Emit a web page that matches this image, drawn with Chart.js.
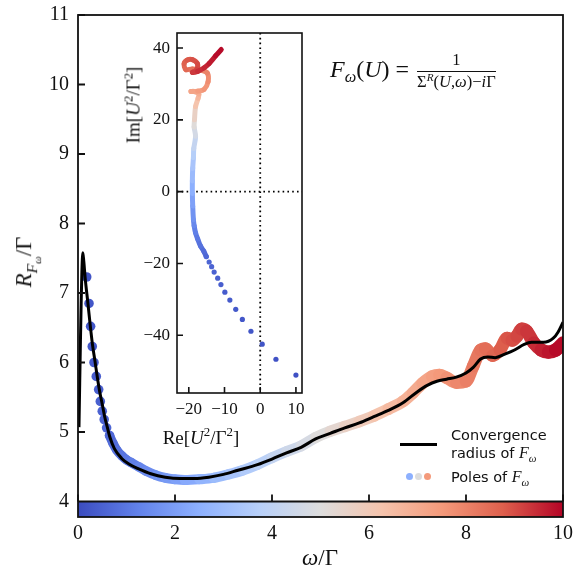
<!DOCTYPE html>
<html>
<head>
<meta charset="utf-8">
<script src="https://cdn.jsdelivr.net/npm/chart.js@4.4.1/dist/chart.umd.min.js"></script>
<style>
  body { margin: 0; background: #fff; }
  #wrap { position: relative; width: 574px; height: 574px; }
  #main { position: absolute; left: 0; top: 0; }
  #inset { position: absolute; left: 120px; top: 25px; }
  .t { position: absolute; white-space: nowrap; font-family: "Liberation Serif", serif; color: #111; line-height: 1; }
  .t sub, .t sup { font-size: 68%; line-height: 0; }
  .rot { transform: translate(-50%, -50%) rotate(-90deg); }
  .ctr { transform: translate(-50%, -50%); }
  .sans { font-family: "DejaVu Sans", sans-serif; font-size: 14.5px; }
  .dot { position: absolute; width: 7px; height: 7px; border-radius: 50%; }
  .frac { display: inline-block; vertical-align: middle; text-align: center; font-size: 16.5px; margin-left: 2px; }
  .frac .num { display: block; border-bottom: 1.8px solid #111; padding: 0 1px 2px; }
  .frac .den { display: block; padding-top: 2px; }
</style>
</head>
<body>
<div id="wrap">
  <canvas id="main" width="574" height="574"></canvas>
  <canvas id="inset" width="190" height="400"></canvas>

  <div class="t rot" style="left:25px; top:262px; font-size:23px;"><i>R</i><sub><i>F</i><sub><i>ω</i></sub></sub>/Γ</div>
  <div class="t ctr" style="left:320px; top:557px; font-size:23px;"><i>ω</i>/Γ</div>

  <div class="t" style="left:330px; top:52px; font-size:24px;">
    <i>F</i><sub><i>ω</i></sub>(<i>U</i>) =
    <span class="frac"><span class="num">1</span><span class="den">Σ<sup><i>R</i></sup>(<i>U</i>,<i>ω</i>)−<i>i</i>Γ</span></span>
  </div>

  <div class="t rot" style="left:133px; top:105px; font-size:19px;">Im[<i>U</i><sup>2</sup>/Γ<sup>2</sup>]</div>
  <div class="t ctr" style="left:201px; top:437px; font-size:19px;">Re[<i>U</i><sup>2</sup>/Γ<sup>2</sup>]</div>

  <div style="position:absolute; left:400px; top:443px; width:37px; height:3.2px; background:#000;"></div>
  <div class="t sans" style="left:451px; top:428px;">Convergence</div>
  <div class="t sans" style="left:451px; top:445px;">radius of <span style="font-family:'Liberation Serif',serif; font-size:16px;"><i>F</i><sub><i>ω</i></sub></span></div>
  <div class="t sans" style="left:451px; top:469px;">Poles of <span style="font-family:'Liberation Serif',serif; font-size:16px;"><i>F</i><sub><i>ω</i></sub></span></div>
  <div class="dot" style="left:406px; top:473px; background:rgb(141,176,254);"></div>
  <div class="dot" style="left:415px; top:473px; background:rgb(221,221,221);"></div>
  <div class="dot" style="left:424px; top:473px; background:rgb(244,154,123);"></div>
</div>

<script>
// convergence radius (black line)
const lineOmega = [0.02, 0.035, 0.05, 0.065, 0.08, 0.1, 0.12, 0.15, 0.2, 0.25, 0.3, 0.35, 0.4, 0.45, 0.5, 0.55, 0.6, 0.66,
  0.75, 0.9, 1.05, 1.25, 1.5, 1.8, 2.1, 2.4, 2.7, 3.0, 3.3, 3.7, 4.0, 4.3, 4.6, 4.9, 5.2, 5.5, 5.8, 6.1, 6.4, 6.7,
  7.0, 7.2, 7.4, 7.6, 7.8, 8.0, 8.15, 8.3, 8.45, 8.6, 8.8, 9.0, 9.2, 9.35, 9.6, 9.8, 9.9, 10.0];
const lineRadius = [5.07, 5.7, 6.3, 6.85, 7.3, 7.58, 7.45, 7.2, 6.88, 6.55, 6.25, 6.02, 5.78, 5.57, 5.4, 5.22, 5.08, 4.92,
  4.76, 4.62, 4.54, 4.47, 4.4, 4.35, 4.33, 4.33, 4.35, 4.39, 4.45, 4.53, 4.61, 4.7, 4.78, 4.9, 4.98, 5.06, 5.13, 5.22, 5.31, 5.42,
  5.58, 5.67, 5.73, 5.76, 5.79, 5.85, 5.93, 6.05, 6.08, 6.07, 6.12, 6.18, 6.26, 6.29, 6.29, 6.35, 6.44, 6.58];

// poles of F_w (first ones are separate dots, then a dense band)
const poleOmega = [0.179, 0.227, 0.26, 0.294, 0.33, 0.377, 0.426, 0.46, 0.5, 0.54, 0.59, 0.65,
  0.72, 0.8, 0.9, 1.0, 1.1, 1.25, 1.4, 1.6, 1.8, 2.0, 2.2, 2.5, 2.8, 3.1, 3.4, 3.7, 4.0, 4.3, 4.6, 4.9, 5.2, 5.5,
  5.8, 6.1, 6.4, 6.7, 6.9, 7.1, 7.3, 7.45, 7.6, 7.8, 8.0, 8.15, 8.3, 8.4, 8.55, 8.7, 8.85, 8.95, 9.05, 9.15, 9.25,
  9.4, 9.55, 9.7, 9.85, 10.0];
const poleRadius = [7.23, 6.85, 6.52, 6.23, 6.0, 5.8, 5.61, 5.44, 5.3, 5.18, 5.06, 4.95,
  4.84, 4.74, 4.66, 4.6, 4.56, 4.5, 4.44, 4.38, 4.34, 4.32, 4.31, 4.32, 4.34, 4.39, 4.45, 4.53, 4.63, 4.72, 4.8, 4.92, 5.01, 5.08,
  5.15, 5.23, 5.33, 5.44, 5.56, 5.7, 5.8, 5.82, 5.78, 5.71, 5.73, 5.95, 6.18, 6.2, 6.1, 6.18, 6.35, 6.32, 6.38, 6.48, 6.45,
  6.28, 6.18, 6.15, 6.18, 6.28];
const poleDotCount = 12;

// inset: poles in the U^2 plane, with the omega they belong to
const insetRe = [10.0, 4.4, 0.56, -2.6, -5.0, -6.85, -8.5, -9.9, -11.0, -11.9, -12.9, -13.6, -14.3, -15.1,
  -15.8, -16.7, -17.5, -18.1, -18.5, -18.7, -18.9, -19.0, -19.0, -18.9, -18.7, -18.6, -18.1, -18.5, -18.4, -18.1,
  -17.4, -17.2, -18.5, -19.4, -17.5, -15.7, -14.6, -14.8, -16.7, -19.0, -20.8, -21.3, -20.4, -19.0, -17.6, -17.8,
  -19.0, -17.5, -15.7, -14.3, -12.5, -10.9];
const insetIm = [-51.1, -46.7, -42.5, -38.9, -35.6, -32.8, -30.2, -28.0, -25.9, -24.1, -22.4, -20.9, -19.6, -18.1,
  -16.6, -15.2, -13.2, -11.5, -9.5, -7.8, -4.0, -0.5, 3.0, 6.5, 9.5, 12.0, 15.4, 18.0, 20.0, 23.7,
  26.0, 27.2, 27.9, 27.9, 28.0, 28.5, 30.6, 33.0, 33.9, 34.2, 34.0, 35.7, 36.7, 36.8, 35.7, 34.0,
  33.2, 33.5, 34.5, 35.7, 37.8, 39.6];
const insetOmega = [0.12, 0.15, 0.18, 0.22, 0.26, 0.3, 0.34, 0.38, 0.42, 0.46, 0.5, 0.54, 0.58, 0.62,
  0.7, 0.8, 0.95, 1.1, 1.3, 1.5, 1.9, 2.3, 2.7, 3.1, 3.5, 3.9, 4.4, 4.9, 5.3, 6.0,
  6.5, 6.8, 7.0, 7.1, 7.3, 7.5, 7.7, 7.9, 8.1, 8.3, 8.5, 8.6, 8.8, 8.9, 9.0, 9.1,
  9.2, 9.35, 9.5, 9.6, 9.8, 10.0];
const insetDotCount = 14;

const xTicks = [0, 2, 4, 6, 8, 10];
const yTicks = [4, 5, 6, 7, 8, 9, 10, 11];
const insetXTicks = [-20, -10, 0, 10];
const insetYTicks = [-40, -20, 0, 20, 40];

// coolwarm colormap
const cwStops = [[0, [59, 76, 192]], [0.125, [98, 130, 234]], [0.25, [141, 176, 254]], [0.375, [184, 208, 249]],
  [0.5, [221, 221, 221]], [0.625, [245, 196, 173]], [0.75, [244, 154, 123]], [0.875, [222, 96, 77]], [1, [180, 4, 38]]];

function coolwarm(t) {
  t = Math.max(0, Math.min(1, t));
  for (let i = 1; i < cwStops.length; i++) {
    if (t <= cwStops[i][0]) {
      const [t0, c0] = cwStops[i - 1], [t1, c1] = cwStops[i];
      const f = (t - t0) / (t1 - t0);
      return 'rgb(' + c0.map((c, k) => Math.round(c + (c1[k] - c) * f)).join(',') + ')';
    }
  }
  return 'rgb(180,4,38)';
}

const serif = '"Liberation Serif", serif';
const ink = '#111';
const minus = v => String(v).replace('-', '\u2212');

function fixTicks(list) {
  return scale => { scale.ticks = list.map(v => ({ value: v })); };
}
// fixed axis box size, no extra room for the end labels
function fitY(w) {
  return s => { s.width = w; s.paddingTop = 0; s.paddingBottom = 0; };
}
function fitX(h) {
  return s => { s.height = h; s.paddingLeft = 0; s.paddingRight = 0; };
}

const mainFrame = {
  id: 'mainFrame',
  afterDraw(chart) {
    const { ctx, chartArea: a, scales: { x, y } } = chart;
    const y4 = y.getPixelForValue(yTicks[0]);
    ctx.save();
    const g = ctx.createLinearGradient(x.getPixelForValue(0), 0, x.getPixelForValue(10), 0);
    cwStops.forEach(s => g.addColorStop(s[0], 'rgb(' + s[1].join(',') + ')'));
    ctx.fillStyle = g;
    ctx.fillRect(a.left, y4, a.right - a.left, a.bottom - y4);
    ctx.strokeStyle = ink;
    ctx.lineWidth = 1.8;
    ctx.strokeRect(a.left, a.top, a.right - a.left, a.bottom - a.top);
    ctx.beginPath();
    ctx.moveTo(a.left, y4); ctx.lineTo(a.right, y4);
    yTicks.forEach(v => { const p = y.getPixelForValue(v); ctx.moveTo(a.left, p); ctx.lineTo(a.left + 7, p); });
    xTicks.forEach(v => { const p = x.getPixelForValue(v); ctx.moveTo(p, y4); ctx.lineTo(p, y4 - 7); });
    ctx.stroke();
    ctx.restore();
  }
};

const insetFrame = {
  id: 'insetFrame',
  beforeDatasetsDraw(chart) {
    const { ctx, chartArea: a, scales: { x, y } } = chart;
    ctx.save();
    ctx.fillStyle = '#fff';
    ctx.fillRect(a.left, a.top, a.right - a.left, a.bottom - a.top);
    ctx.strokeStyle = '#000';
    ctx.lineWidth = 1.8;
    ctx.setLineDash([1.6, 3.2]);
    ctx.beginPath();
    const x0 = x.getPixelForValue(0), y0 = y.getPixelForValue(0);
    ctx.moveTo(x0, a.top); ctx.lineTo(x0, a.bottom);
    ctx.moveTo(a.left, y0); ctx.lineTo(a.right, y0);
    ctx.stroke();
    ctx.restore();
  },
  afterDraw(chart) {
    const { ctx, chartArea: a, scales: { x, y } } = chart;
    ctx.save();
    ctx.strokeStyle = ink;
    ctx.lineWidth = 1.6;
    ctx.strokeRect(a.left, a.top, a.right - a.left, a.bottom - a.top);
    ctx.beginPath();
    insetYTicks.forEach(v => { const p = y.getPixelForValue(v); ctx.moveTo(a.left, p); ctx.lineTo(a.left + 6, p); });
    insetXTicks.forEach(v => { const p = x.getPixelForValue(v); ctx.moveTo(p, a.bottom); ctx.lineTo(p, a.bottom - 6); });
    ctx.stroke();
    ctx.restore();
  }
};

new Chart(document.getElementById('main'), {
  type: 'scatter',
  data: {
    datasets: [{
      label: 'Convergence radius',
      data: lineOmega.map((w, i) => ({ x: w, y: lineRadius[i] })),
      showLine: true,
      borderColor: '#000',
      borderWidth: 3,
      pointRadius: 0,
      cubicInterpolationMode: 'monotone',
      order: 0
    }, {
      label: 'Poles',
      data: poleOmega.map((w, i) => ({ x: w, y: poleRadius[i] })),
      showLine: true,
      borderCapStyle: 'round',
      borderJoinStyle: 'round',
      cubicInterpolationMode: 'monotone',
      segment: {
        borderColor: c => c.p0DataIndex < poleDotCount - 1 ? 'rgba(0,0,0,0)'
          : coolwarm((c.p0.parsed.x + c.p1.parsed.x) / 20),
        borderWidth: c => 9 + 0.45 * c.p0.parsed.x,
        borderCapStyle: 'round'
      },
      pointRadius: c => c.dataIndex < poleDotCount ? 4.8 : 0,
      pointBackgroundColor: c => coolwarm(poleOmega[c.dataIndex] / 10),
      pointBorderWidth: 0,
      order: 1
    }]
  },
  options: {
    responsive: false,
    animation: false,
    layout: { padding: { top: 15, right: 11, left: 0, bottom: 0 } },
    plugins: { legend: { display: false }, tooltip: { enabled: false } },
    scales: {
      x: {
        type: 'linear', min: 0, max: 10,
        afterBuildTicks: fixTicks(xTicks),
        afterFit: fitX(57),
        grid: { display: false, drawTicks: false },
        border: { display: false },
        ticks: { font: { family: serif, size: 20 }, color: ink, padding: 5, maxRotation: 0 }
      },
      y: {
        type: 'linear', min: 3.777, max: 11,
        afterBuildTicks: fixTicks(yTicks),
        afterFit: fitY(78),
        grid: { display: false, drawTicks: false },
        border: { display: false },
        ticks: { font: { family: serif, size: 20 }, color: ink, padding: 9 }
      }
    }
  },
  plugins: [mainFrame]
});

new Chart(document.getElementById('inset'), {
  type: 'scatter',
  data: {
    datasets: [{
      label: 'Poles in U^2 plane',
      data: insetRe.map((r, i) => ({ x: r, y: insetIm[i] })),
      showLine: true,
      tension: 0.35,
      borderCapStyle: 'round',
      borderJoinStyle: 'round',
      segment: {
        borderColor: c => c.p0DataIndex < insetDotCount - 1 ? 'rgba(0,0,0,0)'
          : coolwarm((insetOmega[c.p0DataIndex] + insetOmega[c.p1DataIndex]) / 20),
        borderWidth: 5,
        borderCapStyle: 'round'
      },
      pointRadius: c => c.dataIndex < insetDotCount ? 2.6 : 0,
      pointBackgroundColor: c => coolwarm(insetOmega[c.dataIndex] / 10),
      pointBorderWidth: 0
    }]
  },
  options: {
    responsive: false,
    animation: false,
    layout: { padding: { top: 8, right: 8, left: 0, bottom: 0 } },
    plugins: { legend: { display: false }, tooltip: { enabled: false } },
    scales: {
      x: {
        type: 'linear', min: -23.3, max: 11.7,
        afterBuildTicks: fixTicks(insetXTicks),
        afterFit: fitX(32),
        grid: { display: false, drawTicks: false },
        border: { display: false },
        ticks: { font: { family: serif, size: 17 }, color: ink, padding: 6, maxRotation: 0, callback: minus }
      },
      y: {
        type: 'linear', min: -56.1, max: 44.2,
        afterBuildTicks: fixTicks(insetYTicks),
        afterFit: fitY(57),
        grid: { display: false, drawTicks: false },
        border: { display: false },
        ticks: { font: { family: serif, size: 17 }, color: ink, padding: 7, callback: minus }
      }
    }
  },
  plugins: [insetFrame]
});
</script>
</body>
</html>
